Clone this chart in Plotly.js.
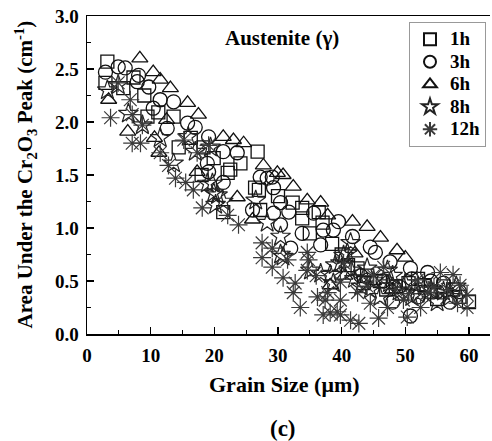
<!DOCTYPE html>
<html>
<head>
<meta charset="utf-8">
<script src="https://cdn.plot.ly/plotly-3.0.1.min.js"></script>
<style>
  html, body { margin: 0; padding: 0; background: #fff; }
  #chart { width: 492px; height: 441px; }
</style>
</head>
<body>
<div id="chart"></div>
<script>
// Area under the Cr2O3 Raman peak vs. austenite grain size, by oxidation time
const seriesNames = ['1h', '3h', '6h', '8h', '12h'];

const x1h = [3.2, 2.9, 5.7, 7.3, 9.0, 11.2, 13.6, 14.4, 16.3, 18.3, 19.9, 22.1, 24.1, 26.8, 22.5, 27.0, 21.4, 27.2, 26.4, 32.3, 33.8, 33.8, 36.4, 37.0, 40.0, 42.5, 44.0, 46.0, 48.5, 50.5, 52.0, 54.0, 56.0, 58.5, 60.0, 9.5, 18.0, 30.0, 41.0, 43.5, 47.0, 49.5, 53.0, 55.0, 57.5, 38.5, 35.0];
const y1h = [2.57, 2.37, 2.32, 2.42, 2.25, 2.09, 2.05, 1.76, 1.85, 1.76, 1.66, 1.52, 1.61, 1.72, 1.55, 1.36, 1.15, 1.17, 1.38, 1.24, 1.09, 1.19, 1.15, 1.05, 0.75, 0.62, 0.55, 0.50, 0.45, 0.48, 0.52, 0.40, 0.45, 0.35, 0.30, 2.05, 1.50, 1.30, 0.65, 0.48, 0.42, 0.38, 0.46, 0.33, 0.42, 0.85, 0.95];

const x3h = [2.9, 4.9, 6.0, 8.1, 7.9, 9.7, 10.4, 11.5, 13.6, 12.6, 15.8, 17.0, 18.9, 21.4, 23.6, 28.3, 29.1, 19.1, 19.1, 21.4, 26.0, 29.3, 27.2, 30.4, 31.7, 35.6, 33.8, 37.1, 39.5, 30.4, 32.0, 36.7, 38.7, 41.7, 44.5, 45.3, 47.6, 50.8, 53.5, 43.0, 49.0, 52.0, 55.0, 57.0, 29.3, 50.8, 46.5, 51.0, 54.0, 56.0, 58.5, 48.0];
const y3h = [2.47, 2.52, 2.51, 2.44, 2.38, 2.33, 2.13, 2.21, 2.19, 1.94, 1.99, 1.95, 1.61, 1.72, 1.71, 1.47, 1.48, 1.86, 1.53, 1.43, 1.17, 1.14, 1.48, 1.03, 1.15, 1.14, 0.95, 0.98, 1.06, 1.24, 0.81, 0.84, 0.98, 0.92, 0.82, 0.77, 0.68, 0.62, 0.58, 0.55, 0.45, 0.35, 0.40, 0.30, 1.38, 0.17, 0.50, 0.52, 0.50, 0.48, 0.40, 0.30];

const x6h = [8.3, 10.4, 11.5, 13.1, 15.8, 17.5, 21.4, 24.6, 27.7, 29.9, 30.8, 32.4, 34.6, 36.7, 37.8, 41.7, 44.0, 46.1, 48.7, 50.0, 42.1, 38.2, 3.4, 6.4, 17.3, 23.6, 26.0, 10.6, 11.3, 23.0, 12.5, 40.5, 45.0, 48.0];
const y6h = [2.60, 2.47, 2.40, 2.32, 2.18, 2.07, 1.86, 1.80, 1.59, 1.52, 1.50, 1.39, 1.26, 1.24, 1.12, 1.06, 1.01, 0.91, 0.79, 0.72, 0.76, 0.46, 2.21, 1.91, 1.53, 1.29, 1.08, 1.85, 1.71, 1.83, 2.02, 0.55, 0.50, 0.42];

const x8h = [3.2, 4.9, 6.5, 8.7, 11.5, 15.9, 17.0, 19.4, 13.6, 19.7, 19.9, 21.4, 20.2, 28.3, 26.5, 18.9, 20.5, 30.4, 30.4, 35.1, 36.7, 39.0, 40.9, 38.7, 30.8, 40.3, 38.2, 41.4, 39.8, 47.2, 43.0, 45.0, 49.0, 51.0, 53.0, 55.0, 57.0, 44.0, 48.0, 42.0, 44.5, 46.0, 50.0, 52.0, 54.0, 56.0, 58.0, 47.5, 41.5];
const y8h = [2.30, 2.35, 2.08, 1.97, 1.85, 1.86, 1.72, 1.76, 1.61, 1.42, 1.33, 1.25, 1.22, 1.05, 1.26, 1.42, 1.31, 0.92, 0.75, 0.60, 0.57, 0.65, 0.76, 0.48, 0.73, 0.74, 0.56, 0.86, 0.67, 0.60, 0.45, 0.50, 0.40, 0.35, 0.45, 0.30, 0.35, 0.62, 0.55, 0.52, 0.42, 0.35, 0.48, 0.38, 0.42, 0.40, 0.45, 0.48, 0.60];

const x12h = [3.7, 4.9, 6.8, 7.1, 8.7, 7.1, 8.4, 11.5, 12.8, 15.2, 17.3, 19.1, 13.9, 15.5, 16.7, 18.1, 22.1, 23.8, 27.5, 29.1, 27.5, 29.1, 30.8, 32.7, 32.4, 33.5, 34.8, 36.2, 37.4, 38.2, 39.8, 39.8, 37.1, 39.3, 41.4, 42.7, 45.8, 50.3, 52.4, 55.5, 57.5, 59.7, 59.7, 58.2, 53.5, 34.6, 37.8, 39.8, 42.5, 44.5, 47.2, 49.7, 34.6, 40.3, 46.6, 51.9, 54.5, 56.6, 58.6, 44.0, 48.5, 50.5, 45.0, 36.0, 31.5];
const y12h = [2.04, 2.37, 2.21, 2.07, 1.97, 1.80, 1.80, 1.71, 1.59, 1.83, 1.71, 1.78, 1.47, 1.43, 1.36, 1.19, 1.12, 1.03, 0.86, 0.81, 0.72, 0.63, 0.53, 0.48, 0.39, 0.25, 0.70, 0.35, 0.32, 0.20, 0.18, 0.32, 0.18, 0.21, 0.13, 0.10, 0.15, 0.16, 0.25, 0.58, 0.56, 0.37, 0.25, 0.29, 0.39, 0.60, 0.39, 0.49, 0.39, 0.29, 0.25, 0.32, 0.77, 0.67, 0.63, 0.51, 0.44, 0.42, 0.46, 0.45, 0.42, 0.38, 0.55, 0.55, 0.70];

const serif = 'Liberation Serif, Times New Roman, serif';

function series(name, xs, ys, symbol, size, color, lw) {
  return {
    type: 'scatter', mode: 'markers',
    // legend rows stay compact while the entry text is drawn larger
    name: '<span style="font-size:19px">' + name + '</span>',
    x: xs, y: ys,
    marker: { symbol: symbol, size: size, color: color,
              line: { color: color, width: lw } }
  };
}

const traces = [
  series(seriesNames[0], x1h, y1h, 'square-open', 13, '#111', 1.3),
  series(seriesNames[1], x3h, y3h, 'circle-open', 14, '#111', 1.3),
  series(seriesNames[2], x6h, y6h, 'triangle-up-open', 14, '#111', 1.3),
  series(seriesNames[3], x8h, y8h, 'star-open', 15, '#222', 1.2),
  series(seriesNames[4], x12h, y12h, 'asterisk-open', 15, '#3a3a3a', 1.2)
];

const boldFont = (size) => ({ family: serif, size: size, color: '#000', weight: 'bold' });

const layout = {
  width: 492, height: 441,
  margin: { l: 87, r: 2, t: 16, b: 107 },
  paper_bgcolor: '#fff', plot_bgcolor: '#fff',
  showlegend: true,
  xaxis: {
    range: [0, 63.3], dtick: 10, tick0: 0,
    showgrid: false, zeroline: false,
    showline: true, linecolor: '#000', linewidth: 1.5, mirror: true,
    ticks: 'inside', ticklen: 7, tickwidth: 1.3, tickcolor: '#000',
    minor: { dtick: 5, ticks: 'inside', ticklen: 4, tickwidth: 1.2, tickcolor: '#000' },
    tickfont: boldFont(19), ticklabelstandoff: 4
  },
  yaxis: {
    range: [0, 3.0], dtick: 0.5, tick0: 0, tickformat: '.1f',
    showgrid: false, zeroline: false,
    showline: true, linecolor: '#000', linewidth: 1.5, mirror: false,
    ticks: 'inside', ticklen: 7, tickwidth: 1.3, tickcolor: '#000',
    minor: { dtick: 0.25, ticks: 'inside', ticklen: 4, tickwidth: 1.2, tickcolor: '#000' },
    tickfont: boldFont(19), ticklabelstandoff: 3
  },
  legend: {
    x: 0.799, y: 0.981, xanchor: 'left', yanchor: 'top',
    bgcolor: '#fff', bordercolor: '#999', borderwidth: 1,
    font: boldFont(15),
    itemsizing: 'constant', tracegroupgap: 0
  },
  annotations: [
    { text: 'Austenite (γ)', xref: 'paper', yref: 'paper', x: 0.485, y: 0.932,
      showarrow: false, xanchor: 'center', yanchor: 'middle',
      font: boldFont(21) },
    { text: 'Area Under the Cr<sub>2</sub>O<sub>3</sub> Peak (cm<sup>-1</sup>)',
      xref: 'paper', yref: 'paper', x: -0.155, y: 0.5, textangle: -90,
      showarrow: false, xanchor: 'center', yanchor: 'middle',
      font: boldFont(21) },
    { text: 'Grain Size (μm)', xref: 'paper', yref: 'paper', x: 0.49, y: -0.160,
      showarrow: false, xanchor: 'center', yanchor: 'middle',
      font: boldFont(22) },
    { text: '(c)', xref: 'paper', yref: 'paper', x: 0.487, y: -0.296,
      showarrow: false, xanchor: 'center', yanchor: 'middle',
      font: boldFont(23) }
  ]
};

Plotly.newPlot('chart', traces, layout, { displayModeBar: false, staticPlot: true });
</script>
</body>
</html>
